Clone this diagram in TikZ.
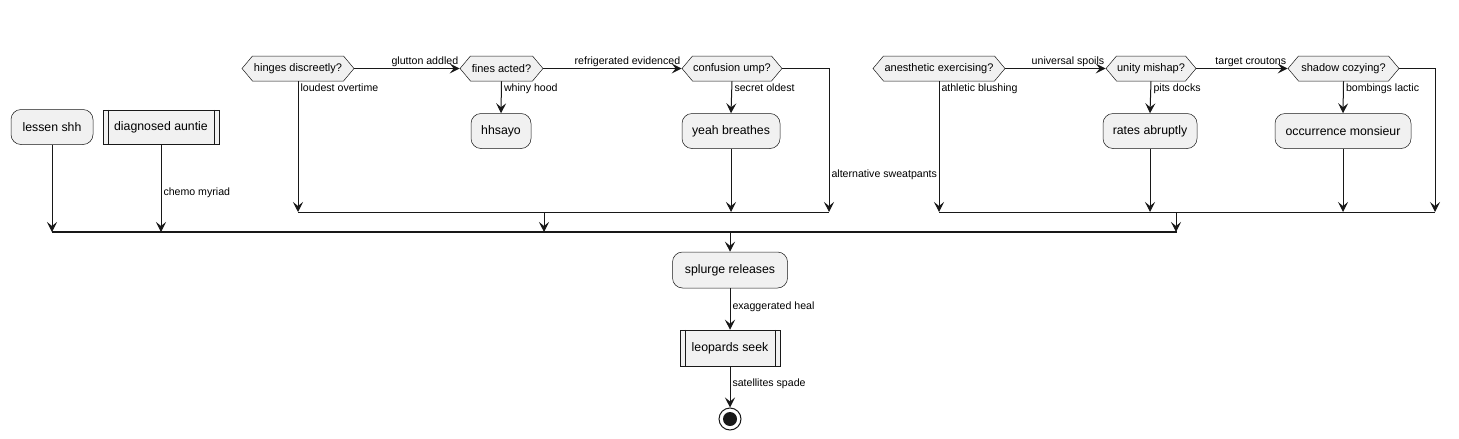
\documentclass[tikz,border=0pt]{standalone}
\usepackage{fontspec}
\setmainfont{Liberation Sans}
\usepackage{tikz}
\usetikzlibrary{shapes.symbols, arrows.meta, positioning, calc}
\definecolor{linedark}{HTML}{181818}
\definecolor{boxfill}{HTML}{F1F1F1}

\begin{document}
\begin{tikzpicture}[x=1pt, y=-1pt,
  action/.style={draw=linedark, line width=0.5pt, fill=boxfill, rounded corners=10pt, minimum height=35pt, inner sep=0pt, font=\fontsize{12.3}{15}\selectfont},
  subproc/.style={draw=linedark, line width=0.5pt, fill=boxfill, minimum height=36pt, inner sep=0pt, font=\fontsize{12.3}{15}\selectfont},
  choice/.style={signal, signal to=west and east, signal pointer angle=100, draw=linedark, line width=0.5pt, fill=boxfill, minimum height=25pt, inner sep=0pt, font=\fontsize{11}{13}\selectfont},
  flow/.style={draw=linedark, line width=1pt, -{Stealth[length=10pt, width=10pt, inset=4pt]}},
  lbl/.style={font=\fontsize{10.6}{12}\selectfont, inner sep=2pt},
  toplbl/.style={lbl, inner sep=1pt, anchor=south east, pos=1},
  bar/.style={draw=linedark, line width=1pt}]
  \useasboundingbox (0,0) rectangle (1459,439);

  % Starting actions
  \node[action, minimum width=82pt] (lessen) at (52,127) {lessen shh};
  \node[subproc, minimum width=116pt, minimum height=34pt] (diag) at (161,127) {diagnosed auntie};

  % Left decision chain
  \node[choice, minimum width=112pt] (hinges) at (298,68.5) {hinges discreetly?};
  \node[choice, minimum width=83pt] (fines) at (501.5,68.5) {fines acted?};
  \node[choice, minimum width=100pt] (confusion) at (732,68.5) {confusion ump?};
  \node[action, minimum width=60pt] (hhsayo) at (501,131) {hhsayo};
  \node[action, minimum width=98pt] (yeah) at (731,131) {yeah breathes};

  % Right decision chain
  \node[choice, minimum width=132pt] (anesth) at (939,68.5) {anesthetic exercising?};
  \node[choice, minimum width=90pt] (unity) at (1151,68.5) {unity mishap?};
  \node[choice, minimum width=111pt] (shadow) at (1343.5,68.5) {shadow cozying?};
  \node[action, minimum width=94pt] (rates) at (1150,131) {rates abruptly};
  \node[action, minimum width=136pt] (occur) at (1343,131) {occurrence monsieur};

  % Final actions
  \node[action, minimum width=115pt, minimum height=36pt] (splurge) at (730,270) {splurge releases};
  \node[subproc, minimum width=100pt] (leopards) at (730,348) {leopards seek};
  \node[circle, draw=linedark, line width=1pt, fill=white, minimum size=22pt, inner sep=0pt] (stop) at (730,419) {};
  \fill[linedark] (stop.center) circle (7pt);

  % Side bars of the subprocess boxes
  \foreach \n in {diag, leopards} {
    \draw[linedark, line width=0.5pt] ([xshift=5.5pt]\n.north west) -- ([xshift=5.5pt]\n.south west);
    \draw[linedark, line width=0.5pt] ([xshift=-5.5pt]\n.north east) -- ([xshift=-5.5pt]\n.south east);
  }

  % Merge bars
  \coordinate (lbarR) at (829,212);
  \coordinate (lbarM) at (544,212);
  \coordinate (rbarR) at (1435,212);
  \coordinate (rbarM) at (1176,212);
  \coordinate (mbarL) at (52,232);
  \coordinate (mbarR) at (1177,232);
  \coordinate (mbarM) at (730,232);

  % Left chain connectors
  \draw[flow] (hinges.east) -- node[toplbl] {glutton addled} (fines.west);
  \draw[flow] (fines.east) -- node[toplbl] {refrigerated evidenced} (confusion.west);
  \draw[flow] (hinges.south) -- node[lbl, anchor=north west, pos=0] {loudest overtime} (hinges.south |- lbarR);
  \draw[flow] (fines.south) -- node[lbl, anchor=north west, pos=0] {whiny hood} (hhsayo.north);
  \draw[flow] (confusion.south) -- node[lbl, anchor=north west, pos=0] {secret oldest} (yeah.north);
  \draw[flow] (yeah.south) -- (yeah.south |- lbarR);
  \draw[flow] (confusion.east) -| node[lbl, anchor=west, pos=0.87] {alternative sweatpants} (lbarR);
  \draw[bar] (hinges.south |- lbarR) -- (lbarR);
  \draw[flow] (lbarM) -- (lbarM |- mbarL);

  % Right chain connectors
  \draw[flow] (anesth.east) -- node[toplbl] {universal spoils} (unity.west);
  \draw[flow] (unity.east) -- node[toplbl] {target croutons} (shadow.west);
  \draw[flow] (anesth.south) -- node[lbl, anchor=north west, pos=0] {athletic blushing} (anesth.south |- rbarR);
  \draw[flow] (unity.south) -- node[lbl, anchor=north west, pos=0] {pits docks} (rates.north);
  \draw[flow] (shadow.south) -- node[lbl, anchor=north west, pos=0] {bombings lactic} (occur.north);
  \draw[flow] (rates.south) -- (rates.south |- rbarR);
  \draw[flow] (occur.south) -- (occur.south |- rbarR);
  \draw[flow] (shadow.east) -| (rbarR);
  \draw[bar] (anesth.south |- rbarR) -- (rbarR);
  \draw[flow] (rbarM) -- (rbarM |- mbarL);

  % Main merge and tail
  \draw[flow] (lessen.south) -- (lessen.south |- mbarL);
  \draw[flow] (diag.south) -- node[lbl, anchor=west, pos=0.55] {chemo myriad} (diag.south |- mbarL);
  \draw[bar, line width=1.8pt] (mbarL) -- (mbarR);
  \draw[flow] (mbarM) -- (splurge.north);
  \draw[flow] (splurge.south) -- node[lbl, anchor=west, pos=0.45] {exaggerated heal} (leopards.north);
  \draw[flow] (leopards.south) -- node[lbl, anchor=west, pos=0.43] {satellites spade} (stop.north);
\end{tikzpicture}
\end{document}
